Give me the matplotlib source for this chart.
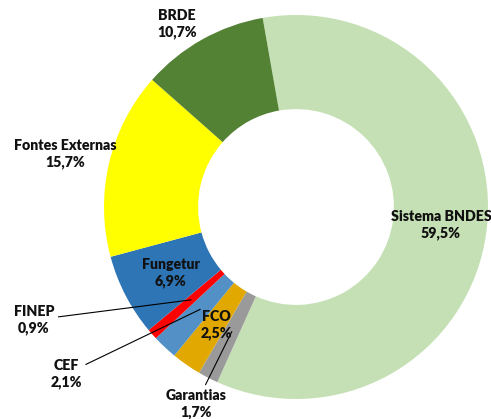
#!/usr/bin/env python3
"""Donut chart of funding sources (share of total)."""

import matplotlib.pyplot as plt
import numpy as np

labels = ["Sistema BNDES", "Garantias", "FCO", "CEF", "FINEP", "Fungetur",
          "Fontes Externas", "BRDE"]
shares = [59.5, 1.7, 2.5, 2.1, 0.9, 6.9, 15.7, 10.7]
colors = ["#C5E0B4", "#9A9A9A", "#E0A800", "#5290C6", "#FF0000", "#2E75B6",
          "#FFFF00", "#548235"]

W, H = 491, 419
CENTER = (296, H - 207)
RADIUS = 192
START = 100

# label centers in pixel coords (x, y from top)
label_pos = {
    "Sistema BNDES": (441, 225),
    "Garantias": (196, 404),
    "FCO": (216, 325),
    "CEF": (66, 374),
    "FINEP": (34, 320),
    "Fungetur": (171, 273),
    "Fontes Externas": (65, 154),
    "BRDE": (177, 24),
}
leaders = {"Garantias", "CEF", "FINEP"}

plt.rcParams["font.family"] = ["Lato", "DejaVu Sans"]

fig = plt.figure(figsize=(W / 100, H / 100), dpi=100)
ax = fig.add_axes([0, 0, 1, 1])

wedges, _ = ax.pie(
    shares,
    colors=colors,
    startangle=START,
    counterclock=False,
    center=CENTER,
    radius=RADIUS,
    wedgeprops=dict(width=RADIUS * 0.49, linewidth=0),
)
# pie() resets the limits, so set them afterwards
ax.set_xlim(0, W)
ax.set_ylim(0, H)
ax.set_aspect("equal")
ax.axis("off")

style = dict(ha="center", va="center", fontsize=10.2, fontweight="heavy",
             linespacing=1.35, color="#111111")

for wedge, name, value in zip(wedges, labels, shares):
    text = f"{name}\n{value:.1f}%".replace(".", ",")
    px, py = label_pos[name]
    pos = (px, H - py)
    if name in leaders:
        mid = np.deg2rad((wedge.theta1 + wedge.theta2) / 2)
        r = RADIUS * 0.73
        tip = (CENTER[0] + r * np.cos(mid), CENTER[1] + r * np.sin(mid))
        ax.annotate(
            text, xy=tip, xytext=pos,
            arrowprops=dict(arrowstyle="-", color="black", lw=0.8,
                            shrinkA=1, shrinkB=0),
            **style,
        )
    else:
        ax.text(pos[0], pos[1], text, **style)

fig.savefig("out.png", dpi=100)
